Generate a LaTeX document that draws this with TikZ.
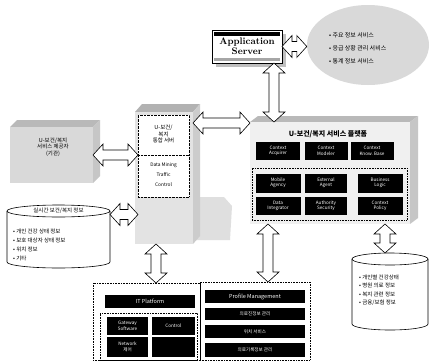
\documentclass[tikz,border=0pt]{standalone}
\usepackage{fontspec}
\newfontfamily\kr{Noto Sans CJK KR}
\usetikzlibrary{calc,shapes.geometric}
\tikzset{
 box/.style={rectangle, inner sep=0pt, outer sep=0pt},
 blk/.style={box, fill=black, text=white, font=\kr\fontsize{4.6}{5.4}\selectfont, align=center},
 dsh/.style={draw, densely dotted, line width=0.6pt},
 fat/.style={draw, fill=white, line width=0.6pt, line join=miter},
 bul/.style={font=\kr\fontsize{5.5}{6.6}\selectfont, anchor=west, inner sep=0pt},
 lbl/.style={font=\kr\fontsize{5.5}{6.6}\selectfont, inner sep=0pt, align=center},
}
\newcommand\vfat[2]{\draw[fat] let \p1=#1, \p2=#2 in
 (\x1,\y1) -- (\x1+11pt,\y1-10pt) -- (\x1+5pt,\y1-10pt) -- (\x1+5pt,\y2+10pt) -- (\x1+11pt,\y2+10pt) -- (\x1,\y2) -- (\x1-11pt,\y2+10pt) -- (\x1-5pt,\y2+10pt) -- (\x1-5pt,\y1-10pt) -- (\x1-11pt,\y1-10pt) -- cycle;}
\newcommand\hfat[2]{\draw[fat] let \p1=#1, \p2=#2 in
 (\x1,\y1) -- (\x1+10pt,\y1+11pt) -- (\x1+10pt,\y1+5pt) -- (\x2-10pt,\y1+5pt) -- (\x2-10pt,\y1+11pt) -- (\x2,\y1) -- (\x2-10pt,\y1-11pt) -- (\x2-10pt,\y1-5pt) -- (\x1+10pt,\y1-5pt) -- (\x1+10pt,\y1-11pt) -- cycle;}
\begin{document}
\begin{tikzpicture}[x=1pt,y=-1pt]
\useasboundingbox[fill=white] (0,0) rectangle (433,362);

% ---------- cloud ----------
\node[ellipse, fill=gray!30, minimum width=122pt, minimum height=80pt, inner sep=0pt] (cloud) at (368,45) {};
\node[bul, font=\kr\fontsize{6}{7}\selectfont] at (329,35) {• 주요 정보 서비스};
\node[bul, font=\kr\fontsize{6}{7}\selectfont] at (329,48) {• 응급 상황 관리 서비스};
\node[bul, font=\kr\fontsize{6}{7}\selectfont] at (329,61) {• 통계 정보 서비스};

% ---------- application server ----------
\fill[gray!50] (216,34) rectangle (286,67);
\node[box, draw, fill=white, line width=0.6pt, minimum width=70pt, minimum height=33pt] (app) at (247,46.5) {};
\fill[black] (214,32) rectangle (280,35.5);
\fill[gray!70] (214,57.5) rectangle (280,61);
\node[font=\bfseries\fontsize{9.5}{11}\selectfont, align=center, inner sep=0pt] at (247,46.5) {Application\\[-1pt]Server};

% ---------- platform ----------
\fill[gray!55] (250,122) -- (258,116) -- (418,116) -- (410,122) -- cycle;
\fill[gray!45] (410,122) -- (418,116) -- (418,218) -- (410,224) -- cycle;
\node[box, fill=gray!12, minimum width=160pt, minimum height=102pt] (plat) at (330,173) {};
\node[font=\kr\bfseries\fontsize{7}{8}\selectfont, inner sep=0pt] at (328,134) {U-보건/복지 서비스 플랫폼};
\node[blk, minimum width=44pt, minimum height=18pt] (c1) at (278,151) {Context\\Acquirer};
\node[blk, minimum width=43pt, minimum height=18pt] (c2) at (326,151) {Context\\Modeler};
\node[blk, minimum width=43pt, minimum height=18pt] (c3) at (372,151) {Context\\Know. Base};
\node[box, dsh, minimum width=155pt, minimum height=52pt] (inner) at (329.5,194) {};
\node[blk, minimum width=45pt, minimum height=19pt] (m1) at (278,183) {Mobile\\Agency};
\node[blk, minimum width=42pt, minimum height=19pt] (m2) at (326,183) {External\\Agent};
\node[blk, minimum width=45pt, minimum height=19pt] (m3) at (380,183) {Business\\Logic};
\node[blk, minimum width=45pt, minimum height=18pt] (d1) at (278,206) {Data\\Integrator};
\node[blk, minimum width=42pt, minimum height=18pt] (d2) at (326,206) {Authority\\Security};
\node[blk, minimum width=45pt, minimum height=18pt] (d3) at (380,206) {Context\\Policy};

% ---------- left user box ----------
\fill[gray!55] (10,127) -- (17,120) -- (100,120) -- (93,127) -- cycle;
\fill[gray!45] (93,127) -- (100,120) -- (100,176) -- (93,183) -- cycle;
\node[box, fill=gray!30, minimum width=83pt, minimum height=56pt] (user) at (51.5,155) {};
\node[lbl] at (53,147) {U-보건/복지\\서비스 제공자\\(기관)};

% ---------- middle server ----------
\fill[gray!25] (137,197) -- (224,197) -- (232,206) -- (230,240) -- (137,240) -- cycle;
\fill[gray!60] (135,112) -- (142,104) -- (200,104) -- (193,112) -- cycle;
\fill[gray!40] (193,112) -- (200,104) -- (200,236) -- (193,244) -- cycle;
\node[box, fill=gray!22, minimum width=58pt, minimum height=132pt] (srv) at (164,178) {};
\node[box, draw, densely dotted, fill=white, minimum width=51pt, minimum height=82pt] (card) at (163.5,156) {};
\draw[densely dotted] (138,155) -- (189,155);
\node[lbl] at (163.5,134) {U-보건/\\복지\\통합 서버};
\node[lbl, font=\kr\fontsize{4.8}{10}\selectfont] at (163.5,175) {Data Mining\\Traffic\\Control};

% ---------- left cylinder ----------
\node[box, minimum width=103pt, minimum height=63pt] (db1) at (58.5,236.5) {};
\draw[fill=white, line width=0.6pt] (7,211) -- (7,262) arc[start angle=180, end angle=360, x radius=51.5pt, y radius=6pt] -- (110,211);
\draw[fill=white, line width=0.6pt] (58.5,211) ellipse [x radius=51.5pt, y radius=6pt];
\node[lbl] at (58.5,211) {실시간 보건/복지 정보};
\node[bul] at (13,231) {• 개인 건강 상태 정보};
\node[bul] at (13,240) {• 보호 대상자 상태 정보};
\node[bul] at (13,249) {• 위치 정보};
\node[bul] at (13,258) {• 기타};

% ---------- right cylinder ----------
\node[box, minimum width=76pt, minimum height=76pt] (db2) at (390,291) {};
\draw[fill=white, line width=0.6pt] (352,259) -- (352,324) arc[start angle=180, end angle=360, x radius=38pt, y radius=6pt] -- (428,259);
\draw[fill=white, line width=0.6pt] (390,259) ellipse [x radius=38pt, y radius=6pt];
\node[bul] at (359,277) {• 개인별 건강상태};
\node[bul] at (359,285.5) {• 병원 의료 정보};
\node[bul] at (359,294) {• 복지 관련 정보};
\node[bul] at (359,302.5) {• 금융/보험 정보};

% ---------- bottom left panel ----------
\node[box, dsh, minimum width=107pt, minimum height=77pt] (itp) at (146.5,321.5) {};
\node[blk, font=\kr\fontsize{5.5}{6.6}\selectfont, minimum width=90pt, minimum height=13pt] (itbar) at (150,301.5) {IT Platform};
\node[box, dsh, minimum width=97pt, minimum height=47pt] (itin) at (148.5,336.5) {};
\node[blk, minimum width=41pt, minimum height=18pt] (gw) at (127.5,326) {Gateway\\Software};
\node[blk, minimum width=43pt, minimum height=18pt] (ctl) at (173.5,326) {Control};
\node[blk, minimum width=41pt, minimum height=20pt] (net) at (127.5,347) {Network\\제어};
\node[blk, minimum width=43pt, minimum height=20pt] (emp) at (173.5,347) {};

% ---------- bottom right panel ----------
\node[box, dsh, minimum width=110pt, minimum height=78pt] (pm) at (255,321) {};
\node[blk, font=\kr\fontsize{5.5}{6.6}\selectfont, minimum width=100pt, minimum height=13pt] (p1) at (255,296.5) {Profile Management};
\node[blk, minimum width=100pt, minimum height=12pt] (p2) at (255,314) {의료진정보 관리};
\node[blk, minimum width=100pt, minimum height=13pt] (p3) at (255,331.5) {위치 서비스};
\node[blk, minimum width=100pt, minimum height=14pt] (p4) at (255,350) {의료기록정보 관리};

% ---------- fat double arrows ----------
\hfat{(app.east)}{(cloud.west)}
\vfat{([xshift=-8pt]app.south east)}{([xshift=-56pt]plat.north east)}
\hfat{(user.east)}{(card.west |- user.east)}
\hfat{([yshift=-11pt]srv.north east)}{(plat.west)}
\hfat{([yshift=22pt]db1.east)}{(card.south west)}
\vfat{([xshift=-8pt]srv.south)}{(itp.north)}
\vfat{([xshift=-62pt]plat.south)}{(pm.north)}
\vfat{([xshift=55pt]plat.south)}{(db2.north)}
\end{tikzpicture}
\end{document}
